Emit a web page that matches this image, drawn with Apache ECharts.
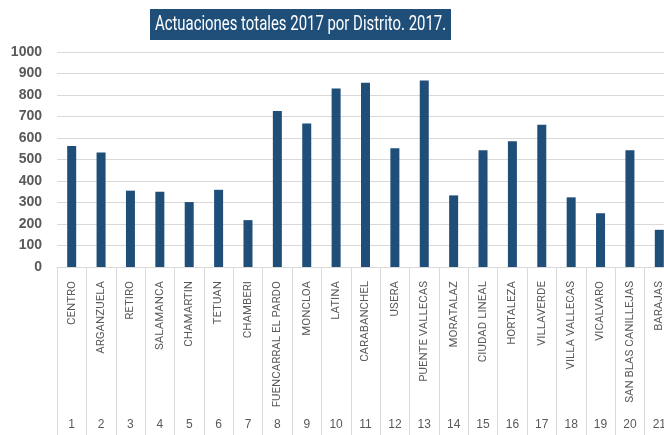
<!DOCTYPE html>
<html>
<head>
<meta charset="utf-8">
<script src="https://cdn.jsdelivr.net/npm/echarts@6/dist/echarts.min.js"></script>
<style>
  html, body { margin: 0; padding: 0; background: #fff; }
  #chart { width: 664px; height: 435px; }
</style>
</head>
<body>
<div id="chart"></div>
<script>
const districts = ['CENTRO', 'ARGANZUELA', 'RETIRO', 'SALAMANCA', 'CHAMARTIN', 'TETUAN', 'CHAMBERI',
  'FUENCARRAL EL PARDO', 'MONCLOA', 'LATINA', 'CARABANCHEL', 'USERA', 'PUENTE VALLECAS', 'MORATALAZ',
  'CIUDAD LINEAL', 'HORTALEZA', 'VILLAVERDE', 'VILLA VALLECAS', 'VICALVARO', 'SAN BLAS CANILLEJAS', 'BARAJAS'];
const districtNumbers = ['1', '2', '3', '4', '5', '6', '7', '8', '9', '10', '11', '12', '13', '14', '15',
  '16', '17', '18', '19', '20', '21'];
const actuaciones = [563, 532, 355, 350, 302, 359, 218, 726, 667, 830, 857, 552, 868, 333, 543, 585, 662, 324, 250, 543, 173];
const yTicks = [0, 1000, 100];
const titleText = 'Actuaciones totales 2017 por Distrito. 2017.';

const chart = echarts.init(document.getElementById('chart'));
const gridColor = '#d9d9d9';
const textColor = '#595959';

const option = {
  animation: false,
  // title box drawn as graphic so the text can be squeezed like the narrow original font
  graphic: [
    {
      type: 'rect',
      left: 150,
      top: 9,
      shape: { width: 301, height: 31 },
      style: { fill: '#1f4e79' }
    },
    {
      type: 'text',
      x: 300.5,
      y: 25,
      scaleX: 0.71,
      style: {
        text: titleText,
        fill: '#fff',
        font: '21px Roboto, sans-serif',
        align: 'center',
        verticalAlign: 'middle'
      }
    }
  ],
  grid: {
    left: 57,
    right: -10,
    top: 52,
    bottom: 168,
    containLabel: false,
    outerBoundsMode: 'none'
  },
  xAxis: [
    {
      type: 'category',
      data: districts,
      position: 'bottom',
      axisLine: { lineStyle: { color: gridColor } },
      axisTick: { show: true, interval: 0, length: 170, lineStyle: { color: gridColor } },
      axisLabel: {
        interval: 0,
        rotate: 90,
        margin: 14,
        color: textColor,
        fontSize: 11.5,
        fontFamily: 'Roboto, sans-serif'
      }
    },
    {
      type: 'category',
      data: districtNumbers,
      position: 'bottom',
      offset: 0,
      axisLine: { show: false },
      axisTick: { show: false },
      axisLabel: {
        interval: 0,
        margin: 152,
        color: textColor,
        fontSize: 12,
        fontFamily: 'Liberation Sans, sans-serif'
      }
    }
  ],
  yAxis: {
    type: 'value',
    min: yTicks[0],
    max: yTicks[1],
    interval: yTicks[2],
    axisLine: { show: false },
    axisTick: { show: false },
    splitLine: { lineStyle: { color: gridColor, width: 1 } },
    axisLabel: {
      margin: 15,
      color: textColor,
      fontSize: 14,
      fontWeight: 'bold',
      fontFamily: 'Liberation Sans, sans-serif',
      formatter: v => String(v)
    }
  },
  series: [
    {
      name: 'Actuaciones',
      type: 'bar',
      xAxisIndex: 0,
      data: actuaciones,
      barWidth: 9,
      itemStyle: { color: '#1f4e79' }
    }
  ]
};
chart.setOption(option);
</script>
</body>
</html>
